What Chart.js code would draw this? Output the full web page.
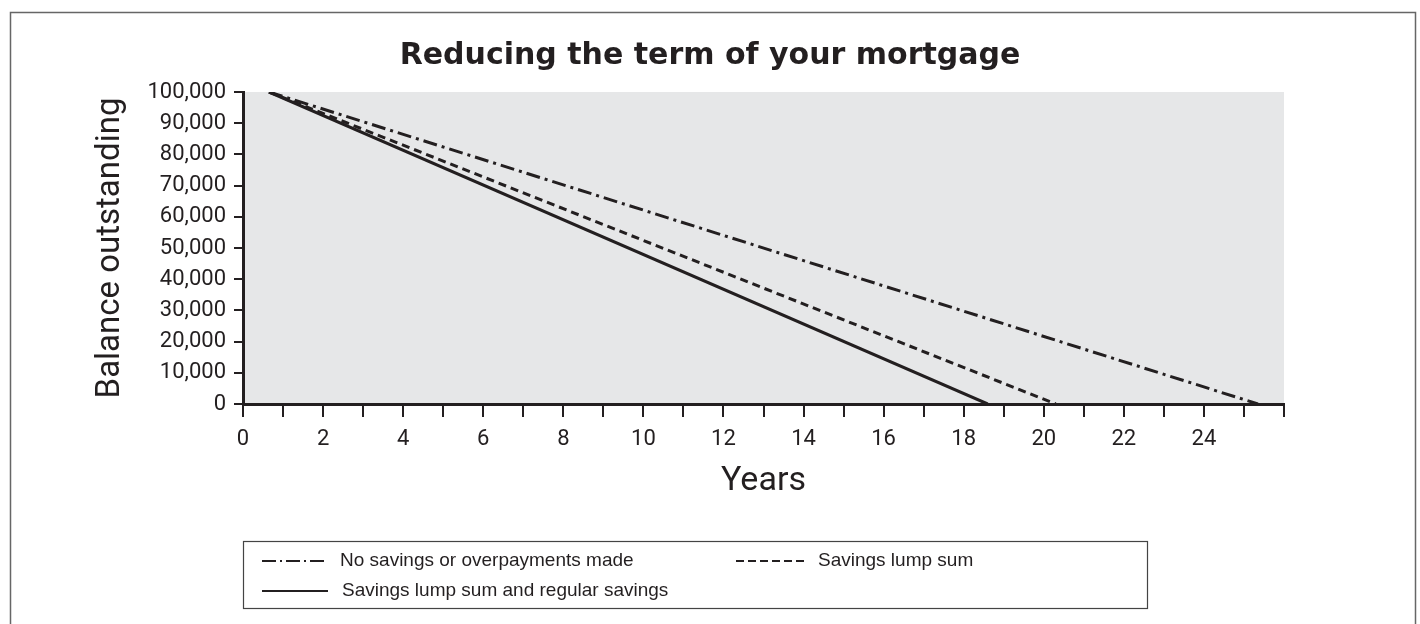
<!DOCTYPE html>
<html>
<head>
<meta charset="utf-8">
<script src="https://cdn.jsdelivr.net/npm/chart.js@4.4.0/dist/chart.umd.min.js"></script>
<style>
  html, body { margin: 0; padding: 0; background: #fff; }
  #wrap { width: 1420px; height: 624px; position: relative; }
</style>
</head>
<body>
<div id="wrap"><canvas id="chart"></canvas></div>
<script>
// --- datos ---
const chartTitle = 'Reducing the term of your mortgage';
const xTitle = 'Years';
const yTitle = 'Balance outstanding';
const seriesLabels = [
    'No savings or overpayments made',
    'Savings lump sum',
    'Savings lump sum and regular savings'
];
const noSavingsYears = [0.65, 25.35];
const noSavingsBalance = [100000, 0];
const lumpSumYears = [0.65, 20.3];
const lumpSumBalance = [100000, 0];
const lumpRegularYears = [0.65, 18.6];
const lumpRegularBalance = [100000, 0];
const xLabelledYears = [0, 2, 4, 6, 8, 10, 12, 14, 16, 18, 20, 22, 24];

const ink = '#231f20';
const axisFont = 'Roboto, "DejaVu Sans", sans-serif';

const toPoints = (xs, ys) => xs.map((x, i) => ({ x, y: ys[i] }));

// fondo gris del área de trazado + marco exterior
const backdrop = {
    id: 'backdrop',
    beforeDraw(chart) {
        const { ctx, chartArea: a } = chart;
        ctx.save();
        ctx.fillStyle = '#e6e7e8';
        ctx.fillRect(a.left, a.top, a.right - a.left, a.bottom - a.top);
        ctx.strokeStyle = '#666';
        ctx.lineWidth = 1.5;
        ctx.strokeRect(10.5, 12.5, 1405, 640);
        ctx.restore();
    }
};

// leyenda en caja, dibujada a mano
const boxLegend = {
    id: 'boxLegend',
    afterDraw(chart) {
        const { ctx } = chart;
        const ds = chart.data.datasets;
        const slots = [
            { x: 262, y: 561, w: 64 },
            { x: 736, y: 561, w: 68 },
            { x: 262, y: 591, w: 66 }
        ];
        ctx.save();
        ctx.strokeStyle = '#444';
        ctx.lineWidth = 1.2;
        ctx.strokeRect(243.5, 541.5, 904, 67);
        ctx.font = '19px "Liberation Sans", Arial, sans-serif';
        ctx.textBaseline = 'middle';
        ds.forEach((d, i) => {
            const s = slots[i];
            ctx.strokeStyle = d.borderColor;
            ctx.lineWidth = 2;
            ctx.setLineDash(d.legendDash || []);
            ctx.beginPath();
            ctx.moveTo(s.x, s.y);
            ctx.lineTo(s.x + s.w, s.y);
            ctx.stroke();
            ctx.setLineDash([]);
            ctx.fillStyle = ink;
            ctx.fillText(d.label, s.x + s.w + 14, s.y);
        });
        ctx.restore();
    }
};

new Chart(document.getElementById('chart'), {
    type: 'line',
    data: {
        datasets: [
            {
                label: seriesLabels[0],
                data: toPoints(noSavingsYears, noSavingsBalance),
                borderColor: ink, borderWidth: 3,
                borderDash: [14, 5, 3, 5], legendDash: [14, 4, 2, 4]
            },
            {
                label: seriesLabels[1],
                data: toPoints(lumpSumYears, lumpSumBalance),
                borderColor: ink, borderWidth: 3,
                borderDash: [8, 5], legendDash: [8, 4]
            },
            {
                label: seriesLabels[2],
                data: toPoints(lumpRegularYears, lumpRegularBalance),
                borderColor: ink, borderWidth: 3
            }
        ]
    },
    options: {
        responsive: true,
        maintainAspectRatio: false,
        animation: false,
        layout: { padding: { left: 0, top: 0, right: 0, bottom: 110 } },
        elements: { point: { radius: 0 }, line: { tension: 0 } },
        plugins: {
            legend: { display: false },
            tooltip: { enabled: false },
            title: {
                display: true,
                text: chartTitle,
                color: ink,
                font: { family: '"DejaVu Sans", sans-serif', size: 30, weight: 'bold' },
                padding: { top: 38, bottom: 18 }
            }
        },
        scales: {
            x: {
                type: 'linear',
                min: 0, max: 26,
                afterFit: s => { s.height = 110; },
                border: { display: true, width: 3, color: ink },
                grid: { drawOnChartArea: false, drawTicks: true, tickLength: 13, color: ink, lineWidth: 2 },
                ticks: {
                    stepSize: 1, autoSkip: false, maxRotation: 0, padding: 9,
                    color: ink, font: { family: axisFont, size: 22 },
                    callback: v => xLabelledYears.includes(v) ? String(v) : ''
                },
                title: {
                    display: true, text: xTitle, color: ink,
                    font: { family: axisFont, size: 34 },
                    padding: { top: 0, bottom: 12 }
                }
            },
            y: {
                min: 0, max: 100000,
                afterFit: s => { s.width = 243; },
                border: { display: true, width: 3, color: ink },
                grid: { drawOnChartArea: false, drawTicks: true, tickLength: 9, color: ink, lineWidth: 2 },
                ticks: {
                    stepSize: 10000, padding: 8,
                    color: ink, font: { family: axisFont, size: 22 },
                    callback: v => v.toLocaleString('en-US')
                },
                title: {
                    display: true, text: yTitle, color: ink,
                    font: { family: axisFont, size: 33 },
                    padding: { top: 91, bottom: 0 }
                }
            },
            // eje derecho vacío, solo reserva el margen
            yRight: {
                position: 'right',
                min: 0, max: 100000,
                afterFit: s => { s.width = 136; },
                border: { display: false },
                grid: { display: false },
                ticks: { display: false }
            }
        }
    },
    plugins: [backdrop, boxLegend]
});
</script>
</body>
</html>
